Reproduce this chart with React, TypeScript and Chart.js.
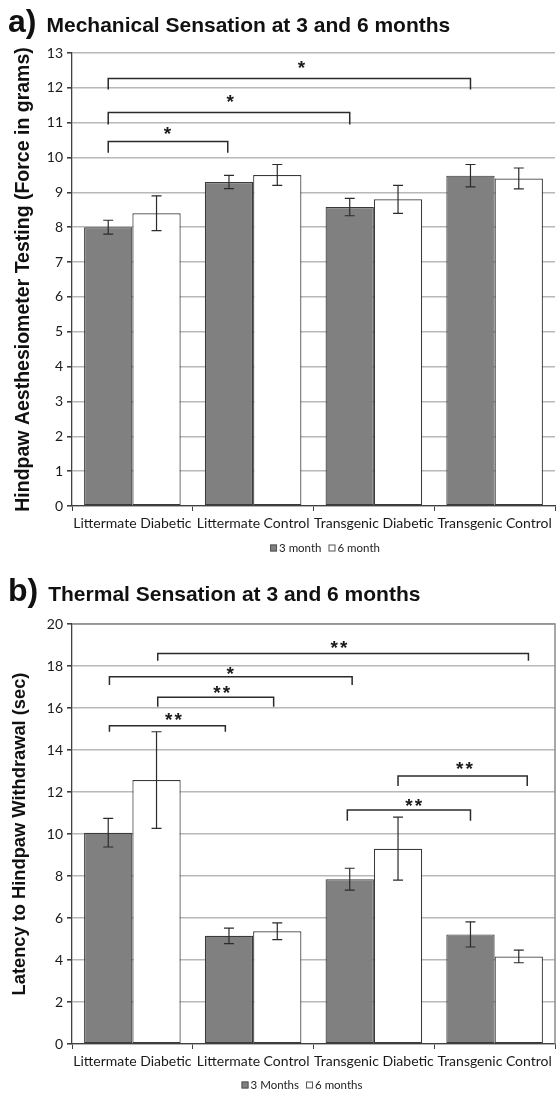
import React, { useEffect, useRef } from 'react';
import Chart from 'chart.js/auto';

// ---------- data ----------
const categories = ['Littermate Diabetic', 'Littermate Control', 'Transgenic Diabetic', 'Transgenic Control'];

const mechSeriesLabels = ['3 month', '6 month'];
const mech3Month = [8.0, 9.3, 8.58, 9.48];
const mech3MonthErr = [0.2, 0.19, 0.25, 0.32];
const mech6Month = [8.4, 9.5, 8.8, 9.4];
const mech6MonthErr = [0.5, 0.3, 0.4, 0.3];
const mechYMax = 13;
const mechYStep = 1;

const thermSeriesLabels = ['3 Months', '6 months'];
const therm3Month = [10.06, 5.15, 7.85, 5.22];
const therm3MonthErr = [0.68, 0.37, 0.52, 0.6];
const therm6Month = [12.57, 5.37, 9.3, 4.17];
const therm6MonthErr = [2.3, 0.4, 1.5, 0.3];
const thermYMax = 20;
const thermYStep = 2;

// significance brackets: [fromCat, toCat, topValue, legValue, starValue, starCat, starCount]
const mechBrackets = [
  [-0.2, 0.79, 10.46, 10.14, 10.83, 0.29, 1],
  [-0.2, 1.8, 11.29, 10.95, 11.75, 0.81, 1],
  [-0.2, 2.8, 12.27, 11.95, 12.72, 1.4, 1],
];
const thermBrackets = [
  [-0.19, 0.77, 15.16, 14.87, 15.67, 0.34, 2],
  [0.21, 1.17, 16.51, 16.06, 16.94, 0.74, 2],
  [-0.19, 1.82, 17.49, 17.1, 17.84, 0.81, 1],
  [0.21, 3.28, 18.6, 18.25, 19.08, 1.71, 2],
  [2.2, 3.27, 12.76, 12.29, 13.35, 2.75, 2],
  [1.78, 2.8, 11.14, 10.63, 11.59, 2.33, 2],
];

// ---------- plugins ----------
const errorBarsPlugin = {
  id: 'errorBars',
  afterDatasetsDraw(chart: any, _args: any, opts: any) {
    const { ctx } = chart;
    const y = chart.scales.y;
    chart.data.datasets.forEach((ds: any, di: number) => {
      const meta = chart.getDatasetMeta(di);
      const errs = opts.errors[di];
      meta.data.forEach((bar: any, i: number) => {
        const v = ds.data[i];
        const e = errs[i];
        const x = bar.x;
        const yt = y.getPixelForValue(v + e);
        const yb = y.getPixelForValue(v - e);
        ctx.save();
        ctx.strokeStyle = '#2b2b2b';
        ctx.lineWidth = 1.2;
        ctx.beginPath();
        ctx.moveTo(x, yt); ctx.lineTo(x, yb);
        ctx.moveTo(x - 5, yt); ctx.lineTo(x + 5, yt);
        ctx.moveTo(x - 5, yb); ctx.lineTo(x + 5, yb);
        ctx.stroke();
        ctx.restore();
      });
    });
  },
};

const bracketsPlugin = {
  id: 'brackets',
  afterDatasetsDraw(chart: any, _args: any, opts: any) {
    const { ctx } = chart;
    const xs = chart.scales.x;
    const y = chart.scales.y;
    const p0 = xs.getPixelForValue(0);
    const p1 = xs.getPixelForValue(1);
    const px = (f: number) => p0 + f * (p1 - p0);
    ctx.save();
    opts.items.forEach((b: number[]) => {
      const [f1, f2, top, leg, sv, sc, n] = b;
      const x1 = px(f1), x2 = px(f2);
      const yt = y.getPixelForValue(top);
      const yl = y.getPixelForValue(leg);
      ctx.strokeStyle = '#2b2b2b';
      ctx.lineWidth = 1.5;
      ctx.beginPath();
      ctx.moveTo(x1, yl); ctx.lineTo(x1, yt); ctx.lineTo(x2, yt); ctx.lineTo(x2, yl);
      ctx.stroke();
      const fs = 19;
      ctx.font = `bold ${fs}px "Liberation Sans", Arial, sans-serif`;
      ctx.fillStyle = '#1a1a1a';
      ctx.textAlign = 'center';
      ctx.textBaseline = 'alphabetic';
      const cx = px(sc);
      const cy = y.getPixelForValue(sv) + 0.58 * fs;
      const sp = 9.5;
      for (let k = 0; k < n; k++) {
        const sx = cx + (k - (n - 1) / 2) * sp;
        ctx.fillText('*', sx, cy);
      }
    });
    ctx.restore();
  },
};

const framePlugin = {
  id: 'frame',
  afterDraw(chart: any, _args: any, opts: any) {
    if (!opts.show) return;
    const { ctx, chartArea } = chart;
    ctx.save();
    ctx.strokeStyle = '#8a8a8a';
    ctx.lineWidth = 1.5;
    ctx.beginPath();
    ctx.moveTo(chartArea.left, chartArea.top);
    ctx.lineTo(chartArea.right, chartArea.top);
    ctx.lineTo(chartArea.right, chartArea.bottom);
    ctx.stroke();
    ctx.restore();
  },
};

const customLegendPlugin = {
  id: 'customLegend',
  afterDraw(chart: any, _args: any, opts: any) {
    const { ctx } = chart;
    ctx.save();
    ctx.font = opts.font;
    const items = chart.data.datasets.map((ds: any) => ({ label: ds.label, fill: ds.backgroundColor, stroke: ds.borderColor }));
    const box = 7, gap = 2, itemGap = 7;
    const widths = items.map((it: any) => box + gap + ctx.measureText(it.label).width);
    const total = widths.reduce((a: number, b: number) => a + b, 0) + itemGap * (items.length - 1);
    let x = opts.centerX - total / 2;
    items.forEach((it: any, i: number) => {
      ctx.fillStyle = it.fill;
      ctx.fillRect(x, opts.y - box / 2, box, box);
      ctx.strokeStyle = '#555';
      ctx.lineWidth = 1;
      ctx.strokeRect(x + 0.5, opts.y - box / 2 + 0.5, box - 1, box - 1);
      ctx.fillStyle = '#222';
      ctx.textBaseline = 'middle';
      ctx.textAlign = 'left';
      ctx.fillText(it.label, x + box + gap, opts.y + 0.5);
      x += widths[i] + itemGap;
    });
    ctx.restore();
  },
};

// ---------- config builder ----------
function makeConfig(p: {
  labels: string[]; v3: number[]; v6: number[]; e3: number[]; e6: number[];
  yMax: number; yStep: number; yTitle: string; yTitleSize: number; yTitlePad: number;
  pad: { top: number; bottom: number }; brackets: number[][]; frame: boolean;
  legendX: number; legendY: number;
}) {
  const tickFont = { family: 'Lato, "Open Sans", sans-serif', size: 14 };
  return {
    type: 'bar',
    data: {
      labels: categories,
      datasets: [
        { label: p.labels[0], data: p.v3, backgroundColor: '#808080', borderColor: '#3a3a3a', borderWidth: 1.2, borderSkipped: false, categoryPercentage: 0.8, barPercentage: 1.0 },
        { label: p.labels[1], data: p.v6, backgroundColor: '#ffffff', borderColor: '#3a3a3a', borderWidth: 1.2, borderSkipped: false, categoryPercentage: 0.8, barPercentage: 1.0 },
      ],
    },
    options: {
      responsive: false,
      animation: false,
      events: [],
      layout: { padding: { top: p.pad.top, bottom: p.pad.bottom, left: 0, right: 1 } },
      scales: {
        x: {
          afterFit: (s: any) => { s.height = 30; },
          grid: { display: true, offset: true, drawOnChartArea: false, drawTicks: true, tickLength: 5, tickColor: '#404040' },
          border: { display: true, color: '#404040', width: 1.3 },
          ticks: { font: tickFont, color: '#1a1a1a', padding: 4, maxRotation: 0, autoSkip: false },
        },
        y: {
          min: 0, max: p.yMax,
          afterFit: (s: any) => { s.width = 72; },
          grid: { color: '#b8b8b8', lineWidth: 1.6, tickLength: 5, tickColor: '#404040' },
          border: { display: true, color: '#404040', width: 1.3 },
          ticks: { stepSize: p.yStep, font: tickFont, color: '#1a1a1a', padding: 4 },
          title: {
            display: true, text: p.yTitle, color: '#111',
            font: { family: '"Liberation Sans", Arial, sans-serif', size: p.yTitleSize, weight: 'bold', lineHeight: 1.2 },
            padding: { top: p.yTitlePad, bottom: 0 },
          },
        },
      },
      plugins: {
        legend: { display: false },
        tooltip: { enabled: false },
        errorBars: { errors: [p.e3, p.e6] },
        brackets: { items: p.brackets },
        frame: { show: p.frame },
        customLegend: { centerX: p.legendX, y: p.legendY, font: '11.5px Lato, "Open Sans", sans-serif' },
      },
    },
    plugins: [errorBarsPlugin, bracketsPlugin, framePlugin, customLegendPlugin],
  };
}

function ChartCanvas({ top, height, config }: { top: number; height: number; config: any }) {
  const ref = useRef<HTMLCanvasElement>(null);
  useEffect(() => {
    if (!ref.current) return;
    const chart = new Chart(ref.current, config);
    return () => chart.destroy();
  }, []);
  return (
    <canvas
      ref={ref}
      width={556}
      height={height}
      style={{ position: 'absolute', left: 0, top, width: 556, height }}
    />
  );
}

const titleStyle: React.CSSProperties = {
  position: 'absolute', left: 8, fontFamily: '"Liberation Sans", Arial, sans-serif', fontWeight: 'bold',
  fontSize: 32, lineHeight: '34px', whiteSpace: 'nowrap', color: '#111',
};

export default function App() {
  const cfgA = makeConfig({
    labels: mechSeriesLabels, v3: mech3Month, v6: mech6Month, e3: mech3MonthErr, e6: mech6MonthErr,
    yMax: mechYMax, yStep: mechYStep, yTitle: 'Hindpaw Aesthesiometer Testing (Force in grams)',
    yTitleSize: 19.5, yTitlePad: 12, pad: { top: 53, bottom: 24 }, brackets: mechBrackets, frame: false,
    legendX: 325, legendY: 548,
  });
  const cfgB = makeConfig({
    labels: thermSeriesLabels, v3: therm3Month, v6: therm6Month, e3: therm3MonthErr, e6: therm6MonthErr,
    yMax: thermYMax, yStep: thermYStep, yTitle: 'Latency to Hindpaw Withdrawal (sec)',
    yTitleSize: 18.3, yTitlePad: 9, pad: { top: 64, bottom: 21 }, brackets: thermBrackets, frame: true,
    legendX: 302, legendY: 525,
  });
  return (
    <div style={{ position: 'absolute', left: 0, top: 0, width: 556, height: 1095, background: '#fff', overflow: 'hidden' }}>
      <ChartCanvas top={0} height={560} config={cfgA} />
      <ChartCanvas top={560} height={535} config={cfgB} />
      <div style={{ ...titleStyle, top: 4 }}>
        a)<span style={{ fontSize: 21, marginLeft: 10 }}>Mechanical Sensation at 3 and 6 months</span>
      </div>
      <div style={{ ...titleStyle, top: 573 }}>
        b)<span style={{ fontSize: 21, marginLeft: 10 }}>Thermal Sensation at 3 and 6 months</span>
      </div>
    </div>
  );
}
